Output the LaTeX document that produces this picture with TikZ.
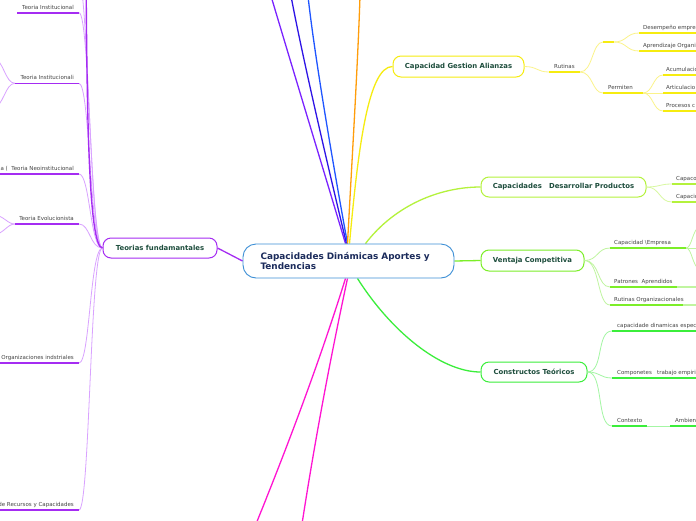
\documentclass[tikz,border=0pt]{standalone}
\usepackage{fontspec}
\setmainfont{DejaVu Sans}
\usetikzlibrary{backgrounds}
\definecolor{cnav}{HTML}{1B2B5B}
\definecolor{cgrn}{HTML}{1D4D3C}
\definecolor{cblue}{HTML}{3D8FD6}
\definecolor{cpur}{HTML}{A52CF2}
\definecolor{cpurl}{HTML}{D9A2FF}
\definecolor{cyel}{HTML}{F6EC10}
\definecolor{cyell}{HTML}{FBF38A}
\definecolor{clime}{HTML}{B4F23C}
\definecolor{climel}{HTML}{D8F8A0}
\definecolor{cvg}{HTML}{7CEE28}
\definecolor{cvgl}{HTML}{C0F5A0}
\definecolor{cgr}{HTML}{3BEE3B}
\definecolor{cgrl}{HTML}{A4F6A4}
\definecolor{cmag}{HTML}{FF14D2}
\definecolor{cviol}{HTML}{7A22FF}
\definecolor{cdblue}{HTML}{2E14E6}
\definecolor{cbl}{HTML}{1F55FF}
\definecolor{cora}{HTML}{FF9D0A}
\definecolor{ctxt}{HTML}{444444}
\tikzset{
  mainbox/.style={draw=cblue, line width=0.9pt, rounded corners=13pt, fill=white,
    minimum height=34pt, text width=176pt, inner xsep=17.5pt, align=left,
    text=cnav, font=\fontsize{8.9}{10.6}\selectfont\bfseries},
  branch/.style={line width=1pt, rounded corners=8pt, fill=white, minimum height=20pt,
    inner xsep=0pt, text=cgrn, font=\fontsize{6.9}{8}\selectfont\bfseries},
  leaf/.style={inner sep=0pt, text=ctxt, font=\fontsize{5.5}{6.5}\selectfont},
  mainline/.style={line width=1.3pt},
  uline/.style={line width=1.6pt},
  lc/.style={line width=0.8pt}
}
\begin{document}
\begin{tikzpicture}[x=1pt,y=-1pt]
\useasboundingbox (0,0) rectangle (696,520);
\clip (0,0) rectangle (696,520);

% ---------- main nodes ----------
\node[mainbox] (c) at (348.5,261) {Capacidades Dinámicas Aportes y\\Tendencias};
\node[branch, draw=cpur, minimum width=114pt] (teo) at (160,248) {Teorias fundamantales};
\node[branch, draw=cyel, minimum width=131pt, minimum height=21pt] (cga) at (458.5,66.5) {Capacidad Gestion Alianzas};
\node[branch, draw=clime, minimum width=165pt] (cdp) at (563.5,187) {Capacidades~~~Desarrollar Productos};
\node[branch, draw=cvg, minimum width=103pt, minimum height=21pt] (vc) at (532.5,260.5) {Ventaja Competitiva};
\node[branch, draw=cgr, minimum width=106pt] (ct) at (534,372) {Constructos Teóricos};

% ---------- off-canvas ends ----------
\coordinate (tv) at (271,-4);
\coordinate (tdb) at (291,-4);
\coordinate (tb) at (308,-4);
\coordinate (to) at (360,-4);
\coordinate (bm1) at (256,524);
\coordinate (bm2) at (302,524);

\begin{pgfonlayer}{background}
\fill[white] (0,0) rectangle (696,520);
% center connectors
\draw[mainline, cviol] ([xshift=-3pt]c.north) .. controls (325,175) and (290,60) .. (tv);
\draw[mainline, cdblue] ([xshift=-2pt]c.north) .. controls (330,175) and (303,60) .. (tdb);
\draw[mainline, cbl] ([xshift=-1pt]c.north) .. controls (335,175) and (315,60) .. (tb);
\draw[mainline, cora] ([xshift=-1pt]c.north) .. controls (352,160) and (358,60) .. (to);
\draw[mainline, cyel] ([xshift=1pt]c.north) .. controls (358,150) and (368,66.5) .. (cga.west);
\draw[mainline, clime] ([xshift=17pt]c.north) .. controls (395,205) and (440,187) .. (cdp.west);
\draw[mainline, cvg] (c.east) -- (vc.west);
\draw[mainline, cgr] ([xshift=9pt]c.south) .. controls (390,330) and (440,372) .. (ct.west);
\draw[mainline, cmag] ([xshift=-3pt]c.south) .. controls (320,360) and (290,440) .. (bm1);
\draw[mainline, cmag] ([xshift=-1pt]c.south) .. controls (330,360) and (315,440) .. (bm2);
\draw[mainline, cpur] (teo.east) -- (c.west);
\end{pgfonlayer}

% ---------- Teorias leaves ----------
\coordinate (l1a) at (17,12.7);   \coordinate (l1b) at (79,12.7);
\coordinate (l2a) at (15,83.3);   \coordinate (l2b) at (79,83.3);
\coordinate (l3a) at (-5,174);    \coordinate (l3b) at (79,174);
\coordinate (l4a) at (15,224);    \coordinate (l4b) at (79,224);
\coordinate (l5a) at (-5,363);    \coordinate (l5b) at (79,363);
\coordinate (l6a) at (-5,510);    \coordinate (l6b) at (79,510);
\coordinate (l0) at (79,-18);
\coordinate (ltop) at (86,-30);
\coordinate (l2u) at (-8,56);  \coordinate (l2d) at (-8,110);
\coordinate (l4u) at (-8,214); \coordinate (l4d) at (-8,236);

\draw[lc, cpurl] (teo.west) .. controls (90,248) and (90,12.7) .. (l1b);
\draw[lc, cpurl] (teo.west) .. controls (90,248) and (90,83.3) .. (l2b);
\draw[lc, cpurl] (teo.west) .. controls (90,248) and (90,174) .. (l3b);
\draw[lc, cpurl] (teo.west) .. controls (90,248) and (90,224) .. (l4b);
\draw[lc, cpurl] (teo.west) .. controls (90,248) and (90,363) .. (l5b);
\draw[lc, cpurl] (teo.west) .. controls (90,248) and (90,510) .. (l6b);
\draw[lc, cpurl] (teo.west) .. controls (90,248) and (88,-18) .. (l0);
\draw[line width=1.4pt, cpur] (teo.west) .. controls (88,248) and (87,100) .. (ltop);
\draw[lc, cpurl] (l2a) .. controls (5,83.3) and (4,60) .. (l2u);
\draw[lc, cpurl] (l2a) .. controls (5,83.3) and (4,106) .. (l2d);
\draw[lc, cpurl] (l4a) .. controls (7,224) and (5,216) .. (l4u);
\draw[lc, cpurl] (l4a) .. controls (7,224) and (5,233) .. (l4d);
\foreach \a/\b in {l1a/l1b,l2a/l2b,l3a/l3b,l4a/l4b,l5a/l5b,l6a/l6b}
  \draw[uline, cpur] (\a) -- (\b);
\node[leaf, anchor=base east] (t1) at (74,9.2) {Teoria Institucional};
\node[leaf, anchor=base east] (t2) at (74,79.8) {Teoria Institucionali};
\node[leaf, anchor=base east] (t3) at (74,170.5) {a (~~Teoria Neoinstitucional};
\node[leaf, anchor=base east] (t4) at (74,220.5) {Teoria Evolucionista};
\node[leaf, anchor=base east] (t5) at (74,359.5) {Organizaciones indstriales};
\node[leaf, anchor=base east] (t6) at (74,506.5) {de Recursos y Capacidades};

% ---------- Capacidad Gestion Alianzas ----------
\coordinate (ra) at (549,72);  \coordinate (rb) at (580,72);
\coordinate (ba) at (603,42);  \coordinate (bb) at (614,42);
\coordinate (pa) at (603,93);  \coordinate (pb) at (643,93);
\coordinate (dea) at (639,33);  \coordinate (deb) at (700,33);
\coordinate (apa) at (639,51);  \coordinate (apb) at (700,51);
\coordinate (aca) at (663,75);  \coordinate (acb) at (700,75);
\coordinate (ara) at (663,93);  \coordinate (arb) at (700,93);
\coordinate (pra) at (663,111); \coordinate (prb) at (700,111);
\draw[lc, cyell] (cga.east) .. controls (537,66.5) and (537,72) .. (ra);
\draw[lc, cyell] (rb) .. controls (593,72) and (592,42) .. (ba);
\draw[lc, cyell] (rb) .. controls (593,72) and (592,93) .. (pa);
\draw[lc, cyell] (bb) .. controls (627,42) and (626,33) .. (dea);
\draw[lc, cyell] (bb) .. controls (627,42) and (626,51) .. (apa);
\draw[lc, cyell] (pb) .. controls (653,93) and (653,75) .. (aca);
\draw[lc, cyell] (pb) -- (ara);
\draw[lc, cyell] (pb) .. controls (653,93) and (653,111) .. (pra);
\foreach \a/\b in {ra/rb,ba/bb,pa/pb,dea/deb,apa/apb,aca/acb,ara/arb,pra/prb}
  \draw[uline, cyel] (\a) -- (\b);
\node[leaf, anchor=base west] (rut) at (554,68.5) {Rutinas};
\node[leaf, anchor=base west] (per) at (608,89.5) {Permiten};
\node[leaf, anchor=base west] (des) at (643,29.5) {Desempeño empre};
\node[leaf, anchor=base west] (apr) at (643,47.5) {Aprendizaje Organi};
\node[leaf, anchor=base west] (acu) at (666,71.5) {Acumulacio};
\node[leaf, anchor=base west] (art) at (666,89.5) {Articulacio};
\node[leaf, anchor=base west] (pro) at (666,107.5) {Procesos c};

% ---------- Capacidades Desarrollar Productos ----------
\coordinate (c1a) at (672,184); \coordinate (c1b) at (700,184);
\coordinate (c2a) at (672,202); \coordinate (c2b) at (700,202);
\draw[lc, climel] (cdp.east) .. controls (660,187) and (659,184) .. (c1a);
\draw[lc, climel] (cdp.east) .. controls (660,187) and (659,202) .. (c2a);
\draw[uline, clime] (c1a) -- (c1b);
\draw[uline, clime] (c2a) -- (c2b);
\node[leaf, anchor=base west] (cp1) at (676,180.5) {Capaco};
\node[leaf, anchor=base west] (cp2) at (676,198.5) {Capacid};

% ---------- Ventaja Competitiva ----------
\coordinate (v1a) at (610,248); \coordinate (v1b) at (686,248);
\coordinate (v2a) at (610,287); \coordinate (v2b) at (677,287);
\coordinate (v3a) at (610,305); \coordinate (v3b) at (683,305);
\coordinate (v1u) at (700,226); \coordinate (v1m) at (700,248); \coordinate (v1d) at (700,270);
\coordinate (v2e) at (700,287); \coordinate (v3e) at (700,305);
\draw[lc, cvgl] (vc.east) .. controls (598,260.5) and (597,248) .. (v1a);
\draw[lc, cvgl] (vc.east) .. controls (600,260.5) and (597,287) .. (v2a);
\draw[lc, cvgl] (vc.east) .. controls (600,260.5) and (597,305) .. (v3a);
\draw[lc, cvgl] (v1b) .. controls (692,248) and (692,230) .. (v1u);
\draw[lc, cvgl] (v1b) -- (v1m);
\draw[lc, cvgl] (v1b) .. controls (692,248) and (692,266) .. (v1d);
\draw[uline, cvgl] (v2b) -- (v2e);
\draw[uline, cvgl] (v3b) -- (v3e);
\draw[uline, cvg] (v1a) -- (v1b);
\draw[uline, cvg] (v2a) -- (v2b);
\draw[uline, cvg] (v3a) -- (v3b);
\node[leaf, anchor=base west] (ce) at (614,244.5) {Capacidad \textbackslash Empresa};
\node[leaf, anchor=base west] (pat) at (614,283.5) {Patrones~~Aprendidos};
\node[leaf, anchor=base west] (ruo) at (614,301.5) {Rutinas Organizacionales};

% ---------- Constructos Teoricos ----------
\coordinate (k1a) at (612,331); \coordinate (k1b) at (700,331);
\coordinate (k2a) at (612,378); \coordinate (k2b) at (700,378);
\coordinate (k3a) at (612,426); \coordinate (k3b) at (647,426);
\coordinate (k4a) at (670,426); \coordinate (k4b) at (700,426);
\draw[lc, cgrl] (ct.east) .. controls (604,372) and (596,331) .. (k1a);
\draw[lc, cgrl] (ct.east) .. controls (600,372) and (600,378) .. (k2a);
\draw[lc, cgrl] (ct.east) .. controls (604,372) and (596,426) .. (k3a);
\draw[lc, cgrl] (k3b) -- (k4a);
\draw[uline, cgr] (k1a) -- (k1b);
\draw[uline, cgr] (k2a) -- (k2b);
\draw[uline, cgr] (k3a) -- (k3b);
\draw[uline, cgr] (k4a) -- (k4b);
\node[leaf, anchor=base west] (kk1) at (617,327.5) {capacidade dinamicas especi};
\node[leaf, anchor=base west] (kk2) at (617,374.5) {Componetes~~~trabajo empiri};
\node[leaf, anchor=base west] (kk3) at (617,422.5) {Contexto};
\node[leaf, anchor=base west] (kk4) at (675,422.5) {Ambien};
\end{tikzpicture}
\end{document}
